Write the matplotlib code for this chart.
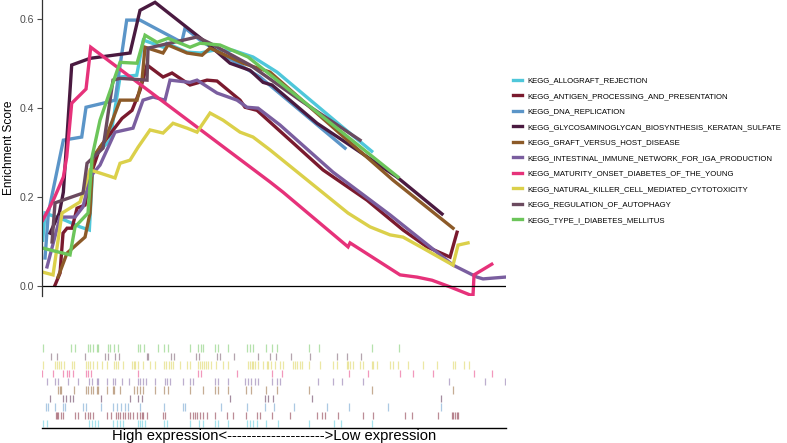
"""
GSEA running enrichment score for 10 KEGG sets, with hit rug below
"""
import matplotlib
matplotlib.use("Agg")
import matplotlib.pyplot as plt
from matplotlib import font_manager
from matplotlib.lines import Line2D

plt.rcParams['font.family'] = ['Liberation Sans', 'DejaVu Sans']

n_genes = 11600

set_names = ['KEGG_ALLOGRAFT_REJECTION',
             'KEGG_ANTIGEN_PROCESSING_AND_PRESENTATION',
             'KEGG_DNA_REPLICATION',
             'KEGG_GLYCOSAMINOGLYCAN_BIOSYNTHESIS_KERATAN_SULFATE',
             'KEGG_GRAFT_VERSUS_HOST_DISEASE',
             'KEGG_INTESTINAL_IMMUNE_NETWORK_FOR_IGA_PRODUCTION',
             'KEGG_MATURITY_ONSET_DIABETES_OF_THE_YOUNG',
             'KEGG_NATURAL_KILLER_CELL_MEDIATED_CYTOTOXICITY',
             'KEGG_REGULATION_OF_AUTOPHAGY',
             'KEGG_TYPE_I_DIABETES_MELLITUS']
set_colors = ['#4fc7da', '#7a1a2e', '#5b95c8', '#4a1a40', '#8c5a28',
              '#7a5e9f', '#e6327a', '#dbd04a', '#6b4a5f', '#6cc55a']

##############################################
# running score (rank, ES)
##############################################
allograft_rank = [18, 75, 200, 575, 950, 1183, 1283, 1700, 1950, 2367, 2533, 3033, 3117,
                  3617, 3950, 4275, 4775, 5275, 5875, 7450, 8242]
allograft_es = [0.103, 0.164, 0.160, 0.148, 0.133, 0.126, 0.290, 0.328, 0.470, 0.474, 0.553,
                0.537, 0.546, 0.526, 0.524, 0.530, 0.530, 0.515, 0.481, 0.362, 0.303]

antigen_rank = [325, 450, 525, 625, 750, 875, 1075, 1200, 1450, 2000, 2250, 2450, 2625, 3025,
                3250, 3700, 4125, 4375, 4950, 5075, 5375, 6200, 7025, 8125, 8325, 9025, 9625,
                10200, 10300, 10375]
antigen_es = [0.002, 0.029, 0.119, 0.130, 0.130, 0.175, 0.182, 0.245, 0.312, 0.377, 0.395,
              0.440, 0.497, 0.470, 0.479, 0.452, 0.463, 0.461, 0.418, 0.402, 0.395, 0.328,
              0.261, 0.193, 0.178, 0.126, 0.088, 0.065, 0.097, 0.121]

dna_rank = [75, 158, 533, 992, 1100, 1617, 1825, 2117, 2450, 3492, 3575, 3950, 4450, 5450, 7575]
dna_es = [0.063, 0.164, 0.328, 0.335, 0.402, 0.413, 0.418, 0.598, 0.598, 0.548, 0.580, 0.553,
          0.524, 0.470, 0.310]

glyco_rank = [200, 433, 533, 742, 1200, 2200, 2450, 2825, 4125, 4700, 5200, 5525, 5750, 6875,
              7625, 8875, 10000]
glyco_es = [0.119, 0.164, 0.211, 0.497, 0.512, 0.524, 0.620, 0.638, 0.546, 0.501, 0.485, 0.458,
            0.452, 0.366, 0.321, 0.245, 0.162]

graft_rank = [400, 625, 1075, 1200, 1275, 1575, 1950, 2375, 2500, 2575, 3025, 3150, 3625, 4000,
              4200, 5025, 5700, 8775, 10275]
graft_es = [0.020, 0.074, 0.110, 0.164, 0.290, 0.328, 0.418, 0.418, 0.463, 0.537, 0.524, 0.542,
            0.524, 0.519, 0.535, 0.501, 0.481, 0.238, 0.130]

iga_rank = [125, 450, 825, 1025, 1200, 1450, 1825, 2275, 2525, 2775, 3075, 3200, 3700, 3875,
            4375, 4875, 5125, 5400, 5950, 7275, 8700, 10275, 10875, 11025, 11575]
iga_es = [0.043, 0.155, 0.155, 0.178, 0.245, 0.272, 0.346, 0.355, 0.418, 0.425, 0.418, 0.463,
          0.458, 0.463, 0.434, 0.418, 0.402, 0.400, 0.362, 0.256, 0.160, 0.047, 0.020, 0.016,
          0.020]

mody_rank = [18, 283, 533, 617, 742, 1100, 1218, 5700, 6025, 7650, 7700, 8950, 9375, 9750,
             10200, 10700, 10775, 10800, 11243]
mody_es = [0.148, 0.193, 0.245, 0.290, 0.411, 0.443, 0.537, 0.234, 0.211, 0.088, 0.097, 0.025,
           0.020, 0.013, -0.002, -0.020, -0.020, 0.025, 0.049]

nk_rank = [25, 275, 500, 950, 1200, 1450, 1825, 1950, 2200, 2400, 2700, 3025, 3275, 3625, 3875,
           4200, 4525, 4950, 5275, 5700, 7650, 8200, 8700, 9025, 9525, 10275, 10400, 10650]
nk_es = [0.031, 0.025, 0.164, 0.189, 0.261, 0.254, 0.243, 0.276, 0.283, 0.312, 0.351, 0.344,
         0.366, 0.355, 0.346, 0.389, 0.373, 0.346, 0.335, 0.306, 0.164, 0.133, 0.115, 0.110,
         0.085, 0.047, 0.092, 0.097]

autophagy_rank = [250, 325, 1025, 1125, 1525, 1775, 1950, 2625, 2650, 3875, 4200, 5200, 6450, 7950]
autophagy_es = [0.099, 0.187, 0.209, 0.276, 0.310, 0.463, 0.467, 0.463, 0.535, 0.560, 0.546,
                0.497, 0.418, 0.328]

t1d_rank = [25, 700, 825, 1150, 1250, 1450, 1950, 2375, 2575, 2875, 3150, 3700, 3950, 4450,
            5150, 8900]
t1d_es = [0.085, 0.070, 0.133, 0.164, 0.290, 0.373, 0.503, 0.501, 0.564, 0.548, 0.557, 0.537,
          0.546, 0.542, 0.515, 0.245]

##############################################
# hit positions (gene rank) for the rug
##############################################
allograft_hits = [18, 125, 1163, 1243, 1313, 1388, 1783, 1868, 1950, 2018, 2388, 2450, 2500,
                  2563, 3050, 3118, 3700, 3913, 4033, 4318, 4408, 4658, 5118, 5200, 5275, 5368,
                  5600, 5900, 6675, 7308, 7475, 8243]
antigen_hits = [338, 375, 408, 463, 513, 825, 888, 1075, 1138, 1200, 1283, 1618, 1725, 1850,
                1908, 1950, 2018, 2075, 2138, 2200, 2283, 2368, 2450, 2493, 2533, 2618, 3025,
                3083, 3700, 3763, 3825, 3883, 3950, 4025, 4118, 4318, 4613, 4775, 5088, 5368,
                5438, 5738, 6200, 6868, 6993, 7075, 7408, 8033, 8268, 9075, 9238, 9900, 10238,
                10283, 10325, 10368, 10408]
dna_hits = [100, 158, 325, 533, 575, 1025, 1100, 1463, 1783, 1883, 1963, 2075, 2138, 2450,
            3038, 3533, 3575, 4463, 5113, 5575, 5788, 6308, 7133, 7683, 8638, 9968]
glyco_hits = [200, 525, 608, 688, 763, 1463, 2188, 2393, 2493, 4700, 5575, 5650, 5775, 6743, 9963]
graft_hits = [408, 438, 468, 808, 1093, 1158, 1218, 1268, 1368, 1408, 1618, 1768, 1800, 1950,
              2308, 2368, 2450, 2533, 2825, 3050, 3150, 3693, 4025, 4318, 4400, 4650, 5108,
              5218, 5608, 5875, 6675, 8243, 10283]
iga_hits = [133, 325, 408, 658, 908, 1183, 1243, 1368, 1408, 1618, 1783, 1825, 1993, 2183, 2393,
            2450, 2533, 2600, 2825, 3083, 3133, 3193, 3525, 3693, 3775, 4318, 4400, 4650, 5068,
            5150, 5218, 5325, 5400, 5743, 5883, 5950, 6908, 7283, 7493, 8033, 10183, 11075, 11575]
mody_hits = [0, 283, 525, 625, 683, 775, 1088, 1138, 1218, 2408, 3908, 3983, 4863, 5743, 5993,
             7683, 8158, 8950, 9283, 9768, 10800, 11243]
nk_hits = [18, 325, 375, 425, 475, 550, 750, 800, 1100, 1150, 1200, 1268, 1375, 1500, 1625,
           1800, 1850, 1900, 2025, 2250, 2288, 2325, 2400, 2525, 2700, 2825, 3050, 3100, 3175,
           3225, 3275, 3450, 3625, 3700, 3900, 3950, 3988, 4050, 4100, 4150, 4225, 4350, 4525,
           4650, 5150, 5200, 5238, 5275, 5325, 5408, 5525, 5613, 5658, 5733, 5825, 5950, 6033,
           6283, 6325, 6368, 6450, 6493, 6683, 6950, 7283, 7383, 7618, 7658, 7700, 7783, 7950,
           8033, 8243, 8283, 8368, 8700, 8783, 8908, 9158, 9533, 9868, 10283, 10325, 10550, 10663]
autophagy_hits = [225, 375, 1063, 1575, 1658, 1825, 1925, 2618, 2658, 3225, 3300, 3850, 3913,
                  4375, 4450, 4800, 5400, 5700, 5858, 6225, 6700, 7375, 7625, 7975]
t1d_hits = [12, 718, 825, 1138, 1200, 1263, 1368, 1408, 1650, 1700, 1800, 1900, 2388, 2450, 2538,
            2900, 3050, 3150, 3700, 3900, 3963, 4025, 4325, 4400, 4650, 5113, 5200, 5275, 5600,
            5743, 5875, 6675, 6933, 8238, 8925]

curves = [(allograft_rank, allograft_es), (antigen_rank, antigen_es), (dna_rank, dna_es),
          (glyco_rank, glyco_es), (graft_rank, graft_es), (iga_rank, iga_es),
          (mody_rank, mody_es), (nk_rank, nk_es), (autophagy_rank, autophagy_es),
          (t1d_rank, t1d_es)]
hits = [allograft_hits, antigen_hits, dna_hits, glyco_hits, graft_hits, iga_hits, mody_hits,
        nk_hits, autophagy_hits, t1d_hits]

fig = plt.figure(figsize=(7.87, 4.43), dpi=100)

##############################################
# running score panel
##############################################
ax = fig.add_axes([0.0534, 0.3318, 0.5896, 0.668])
for (r, es), col in zip(curves, set_colors):
    ax.plot(r, es, color=col, lw=2.4, solid_joinstyle='miter')
ax.axhline(0, color='black', lw=0.9)
ax.set_xlim(0, n_genes)
ax.set_ylim(-0.0225, 0.643)
ax.set_yticks([0.0, 0.2, 0.4, 0.6])
ax.set_yticklabels(['0.0', '0.2', '0.4', '0.6'])
ax.set_xticks([])
for s in ['top', 'right', 'bottom']:
    ax.spines[s].set_visible(False)
ax.spines['left'].set_color('#333333')
ax.spines['left'].set_linewidth(0.9)
ax.tick_params(axis='y', labelsize=7.6, colors='#4d4d4d', length=3.5, width=0.8, pad=2.5)
ax.set_ylabel('Enrichment Score', fontsize=8.6, labelpad=3)
ax.patch.set_visible(False)

##############################################
# hit rug
##############################################
ax2 = fig.add_axes([0.0534, 0.0339, 0.5896, 0.1896])
for i, (h, col) in enumerate(zip(hits, set_colors)):
    ax2.vlines(h, i + 0.08, i + 0.95, color=col, lw=0.9, alpha=0.5)
ax2.set_xlim(0, n_genes)
ax2.set_ylim(0, 10)
ax2.set_xticks([])
ax2.set_yticks([])
for s in ['top', 'right', 'left']:
    ax2.spines[s].set_visible(False)
ax2.spines['bottom'].set_linewidth(1.0)
ax2.set_xlabel('High expression<' + '-' * 20 + '>Low expression', fontsize=10.6, labelpad=1)

##############################################
# legend
##############################################
names = [f.name for f in font_manager.fontManager.ttflist]
if 'Liberation Sans Narrow' in names:
    leg_font = {'family': 'Liberation Sans Narrow', 'size': 6.9}
else:
    leg_font = {'family': 'Liberation Sans', 'size': 5.55}
handles = [Line2D([], [], color=c, lw=2.4) for c in set_colors]
lg = fig.legend(handles, set_names, loc='upper left', bbox_to_anchor=(513 / 787, 1 - 77 / 443),
                frameon=False, prop=leg_font, handlelength=1.15, handletextpad=0.7,
                labelspacing=1.05, borderpad=0, borderaxespad=0)

fig.savefig('out.png', dpi=100)
